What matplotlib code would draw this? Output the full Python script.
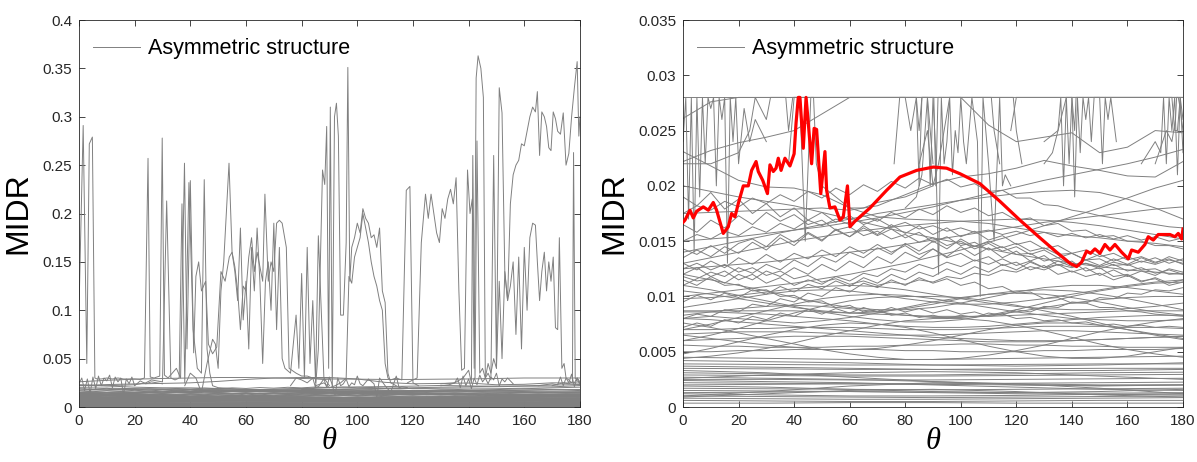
import numpy as np
import matplotlib
matplotlib.use('Agg')
import matplotlib.pyplot as plt
from matplotlib.lines import Line2D
from matplotlib.ticker import FuncFormatter, MultipleLocator

plt.rcParams['font.family'] = ['Liberation Sans', 'DejaVu Sans']

# MIDR values are stored in units of 1e-3
theta_30 = np.arange(0, 181, 30)
theta_10 = np.arange(0, 181, 10)
theta_5 = np.arange(0, 181, 5)

# nearly flat lines near the bottom (sampled every 30 deg)
flat_lines = [
    [0.35, 0.35, 0.4, 0.4, 0.35, 0.35, 0.35],
    [0.6, 0.55, 0.5, 0.5, 0.55, 0.6, 0.6],
    [0.8, 0.75, 0.7, 0.7, 0.75, 0.8, 0.85],
    [1.0, 0.95, 0.9, 0.85, 0.9, 0.95, 1.0],
    [1.2, 1.1, 1.0, 1.0, 1.05, 1.15, 1.2],
    [1.3, 1.35, 1.4, 1.35, 1.3, 1.25, 1.3],
    [1.5, 1.45, 1.4, 1.3, 1.2, 1.15, 1.1],
    [1.7, 1.65, 1.6, 1.55, 1.6, 1.65, 1.7],
    [1.9, 1.8, 1.6, 1.4, 1.3, 1.4, 1.6],
    [2.0, 2.05, 2.1, 2.05, 2.0, 1.95, 2.0],
    [2.2, 2.15, 2.1, 2.1, 2.15, 2.2, 2.25],
    [2.4, 2.3, 2.2, 2.0, 1.8, 1.6, 1.5],
    [2.5, 2.5, 2.45, 2.45, 2.5, 2.55, 2.6],
    [2.7, 2.6, 2.5, 2.3, 2.1, 2.0, 2.0],
    [2.9, 2.85, 2.8, 2.8, 2.85, 2.9, 2.95],
    [3.1, 3.0, 2.9, 2.9, 3.0, 3.1, 3.15],
    [3.3, 3.1, 2.7, 2.3, 2.0, 1.9, 2.0],
    [3.5, 3.45, 3.4, 3.4, 3.45, 3.5, 3.5],
    [3.7, 3.6, 3.5, 3.4, 3.3, 3.3, 3.4],
    [3.9, 3.85, 3.8, 3.8, 3.85, 3.9, 3.9],
    [1.0, 1.4, 1.9, 2.2, 2.1, 1.7, 1.2],
    [0.9, 1.2, 1.5, 1.6, 1.4, 1.1, 0.9],
    [4.2, 4.1, 4.0, 3.8, 3.7, 3.8, 4.0],
    [4.5, 4.4, 4.3, 4.3, 4.4, 4.5, 4.6],
    [2.6, 2.9, 3.1, 3.2, 3.1, 2.8, 2.5],
]

# smooth lines (sampled every 10 deg)
smooth_lines = [
    [5.0, 5.0, 5.1, 5.1, 5.2, 5.2, 5.2, 5.2, 5.1, 5.1, 5.0, 5.0, 5.0, 5.1, 5.1, 5.2, 5.2, 5.2, 5.3],
    [5.6, 5.5, 5.5, 5.4, 5.4, 5.4, 5.5, 5.5, 5.6, 5.6, 5.7, 5.7, 5.6, 5.6, 5.5, 5.5, 5.4, 5.4, 5.4],
    [6.0, 6.1, 6.2, 6.3, 6.4, 6.4, 6.4, 6.3, 6.2, 6.1, 6.0, 5.9, 5.9, 5.9, 6.0, 6.1, 6.2, 6.3, 6.4],
    [6.6, 6.7, 6.8, 6.8, 6.8, 6.7, 6.6, 6.5, 6.5, 6.5, 6.6, 6.7, 6.8, 6.9, 6.9, 6.8, 6.7, 6.6, 6.5],
    [7.0, 7.0, 7.1, 7.1, 7.2, 7.2, 7.2, 7.1, 7.0, 7.0, 7.0, 7.1, 7.2, 7.3, 7.3, 7.3, 7.2, 7.2, 7.1],
    [4.8, 5.3, 5.9, 6.5, 7.0, 7.4, 7.6, 7.5, 7.2, 6.7, 6.1, 5.5, 5.0, 4.6, 4.4, 4.4, 4.6, 5.0, 5.4],
    [7.6, 7.2, 6.7, 6.2, 5.7, 5.2, 4.8, 4.5, 4.3, 4.3, 4.4, 4.7, 5.1, 5.6, 6.2, 6.8, 7.3, 7.7, 8.0],
    [8.0, 7.9, 7.7, 7.5, 7.3, 7.1, 6.9, 6.7, 6.5, 6.3, 6.2, 6.1, 6.0, 6.0, 6.0, 6.1, 6.2, 6.3, 6.4],
    [4.4, 4.6, 4.9, 5.3, 5.8, 6.4, 6.9, 7.4, 7.8, 8.0, 8.0, 7.8, 7.4, 6.9, 6.3, 5.7, 5.2, 4.8, 4.5],
    [8.6, 8.6, 8.5, 8.4, 8.2, 8.0, 7.8, 7.5, 7.3, 7.2, 7.2, 7.3, 7.5, 7.7, 7.9, 8.1, 8.2, 8.3, 8.3],
    [6.5, 6.2, 5.9, 5.6, 5.4, 5.2, 5.2, 5.3, 5.6, 6.0, 6.5, 7.0, 7.4, 7.6, 7.6, 7.4, 7.0, 6.6, 6.2],
    [8.7, 8.7, 8.7, 8.7, 8.7, 8.6, 8.5, 8.4, 8.3, 8.2, 8.2, 8.2, 8.3, 8.4, 8.5, 8.6, 8.7, 8.7, 8.7],
    [9.8, 9.9, 10.1, 10.4, 10.7, 10.9, 11.0, 10.9, 10.6, 10.2, 9.8, 9.4, 9.1, 8.9, 8.8, 8.8, 8.9, 9.1, 9.4],
    [8.3, 8.6, 8.9, 9.1, 9.2, 9.1, 8.9, 8.6, 8.3, 8.1, 8.1, 8.3, 8.6, 9.0, 9.4, 9.7, 9.9, 10.0, 10.0],
    [11.0, 10.6, 10.1, 9.6, 9.1, 8.6, 8.2, 7.9, 7.7, 7.7, 7.9, 8.3, 8.8, 9.4, 10.0, 10.5, 10.9, 11.2, 11.3],
    [7.0, 7.5, 8.1, 8.7, 9.3, 9.8, 10.1, 10.2, 10.1, 9.8, 9.4, 9.0, 8.6, 8.3, 8.0, 7.9, 7.8, 7.8, 7.9],
    [12.0, 11.5, 11.0, 10.5, 9.9, 9.4, 9.0, 8.8, 8.8, 9.0, 9.4, 9.9, 10.4, 10.8, 11.0, 11.0, 10.8, 10.5, 10.2],
    [6.0, 6.5, 7.1, 7.8, 8.5, 9.1, 9.6, 9.9, 10.0, 10.0, 9.9, 9.6, 9.2, 8.7, 8.2, 7.6, 7.0, 6.5, 6.1],
    [9.0, 9.4, 9.8, 10.2, 10.5, 10.6, 10.5, 10.2, 9.8, 9.5, 9.3, 9.3, 9.5, 9.8, 10.2, 10.6, 11.0, 11.3, 11.5],
    [10.5, 10.2, 9.8, 9.4, 9.0, 8.7, 8.5, 8.6, 8.9, 9.3, 9.8, 10.2, 10.5, 10.6, 10.5, 10.2, 9.8, 9.3, 8.8],
    [8.0, 8.2, 8.0, 7.8, 7.6, 7.8, 8.1, 8.5, 9.0, 9.5, 9.9, 10.2, 10.3, 10.2, 9.9, 9.5, 9.0, 8.6, 8.3],
    [26.1, 27.6, 28.8, 29.5, 30.0, 30.5, 30.5, 30.0, 29.5, 29.0, 28.8, 28.5, 28.5, 28.8, 29.0, 29.5, 30.0, 30.0, 30.0],
    [22.2, 23.2, 23.9, 24.4, 25.0, 26.5, 28.5, 30.0, 30.5, 30.5, 29.0, 25.5, 24.0, 24.4, 24.8, 23.0, 23.5, 25.0, 24.8],
    [23.1, 21.8, 20.5, 19.9, 19.8, 19.2, 18.0, 17.2, 17.0, 16.9, 16.8, 16.6, 16.2, 15.8, 15.5, 15.3, 15.0, 14.8, 14.5],
    [17.5, 17.6, 17.7, 17.8, 17.9, 18.0, 17.8, 18.2, 19.2, 20.2, 20.8, 21.1, 21.6, 22.3, 21.8, 21.4, 20.9, 20.8, 22.2],
    [14.0, 14.5, 15.0, 15.5, 16.0, 16.5, 17.0, 17.5, 17.9, 18.3, 18.7, 19.0, 19.3, 19.5, 19.6, 19.4, 18.8, 18.0, 17.0],
    [13.0, 13.5, 14.0, 14.5, 15.0, 15.4, 15.8, 16.1, 16.4, 16.6, 16.8, 16.9, 17.0, 16.9, 16.7, 16.4, 16.0, 15.6, 15.2],
    [20.0, 19.5, 19.0, 18.6, 18.2, 17.6, 17.0, 16.4, 15.8, 15.3, 14.8, 14.3, 13.8, 13.4, 13.0, 12.7, 12.4, 12.2, 12.0],
    [10.0, 10.3, 10.6, 10.9, 11.2, 11.6, 12.0, 12.5, 13.0, 13.6, 14.2, 14.9, 15.6, 16.4, 17.2, 18.0, 18.9, 19.8, 20.5],
    [12.5, 12.7, 12.9, 13.1, 13.4, 13.7, 14.0, 14.3, 14.7, 15.1, 15.5, 15.9, 16.3, 16.7, 17.0, 17.3, 17.6, 17.9, 18.1],
    [15.0, 15.2, 15.4, 15.7, 16.0, 16.3, 16.7, 17.1, 17.6, 18.1, 18.7, 19.3, 19.9, 20.5, 21.0, 21.5, 22.0, 22.6, 23.3],
]

# jagged lines (sampled every 5 deg)
noisy_lines = [
    [14.3, 13.8, 14.6, 13.9, 14.8, 15.2, 14.5, 15.6, 14.9, 15.8, 15.1, 16.0, 15.4, 16.2, 15.5, 16.1, 15.3, 15.8, 14.9,
     15.4, 14.6, 14.9, 14.2, 14.5, 13.8, 13.9, 13.2, 13.5, 12.8, 13.0, 12.5, 12.9, 12.3, 12.6, 12.1, 12.4, 12.0],
    [13.0, 12.4, 13.2, 12.6, 13.5, 12.9, 13.8, 13.1, 13.9, 13.4, 14.2, 13.6, 14.5, 13.9, 14.7, 14.0, 14.6, 13.8, 14.3,
     13.5, 13.9, 13.2, 13.6, 12.8, 13.1, 12.4, 12.8, 12.0, 12.3, 11.8, 12.1, 11.5, 11.9, 11.3, 11.7, 11.2, 11.5],
    [12.0, 12.6, 11.8, 12.3, 11.5, 12.0, 11.2, 11.7, 11.0, 11.5, 11.1, 11.8, 11.4, 12.1, 11.8, 12.5, 12.2, 12.9, 12.5,
     13.1, 12.7, 13.3, 12.9, 13.4, 12.8, 13.2, 12.6, 12.9, 12.2, 12.6, 11.9, 12.4, 11.8, 12.3, 11.9, 12.5, 12.2],
    [11.5, 11.0, 11.8, 11.2, 12.0, 11.5, 12.3, 11.8, 12.6, 12.0, 12.9, 12.3, 13.2, 12.6, 13.6, 13.0, 14.0, 13.4, 14.3,
     13.6, 14.5, 13.7, 14.4, 13.5, 14.1, 13.2, 13.7, 12.8, 13.2, 12.3, 12.6, 11.8, 12.0, 11.4, 11.6, 11.0, 11.3],
    [16.5, 15.8, 16.9, 16.2, 17.3, 16.5, 17.6, 16.8, 17.4, 16.5, 16.9, 16.0, 16.3, 15.5, 15.9, 15.2, 15.6, 14.9, 15.3,
     14.6, 15.0, 14.3, 14.8, 14.1, 14.5, 13.8, 14.2, 13.5, 13.9, 13.3, 13.8, 13.2, 13.6, 13.1, 13.5, 13.0, 13.4],
    [11.0, 11.6, 12.2, 11.8, 12.6, 12.1, 12.9, 12.4, 13.3, 12.7, 13.6, 13.1, 14.0, 13.5, 14.4, 13.8, 14.8, 14.1, 15.0,
     14.3, 15.2, 14.5, 15.0, 14.4, 14.8, 14.1, 14.4, 13.8, 13.9, 13.3, 13.4, 12.8, 12.9, 12.4, 12.5, 12.0, 12.1],
    [9.5, 10.1, 9.7, 10.3, 9.9, 10.6, 10.2, 10.9, 10.4, 11.1, 10.7, 11.4, 10.9, 11.7, 11.2, 12.0, 11.5, 12.2, 11.8,
     12.5, 12.0, 12.7, 12.2, 12.9, 12.4, 13.1, 12.6, 13.2, 12.7, 13.3, 12.8, 13.4, 12.9, 13.5, 13.0, 13.6, 13.2],
    [15.0, 15.6, 15.2, 15.9, 15.5, 16.3, 15.8, 16.6, 16.1, 16.9, 16.4, 17.0, 16.5, 17.3, 16.8, 17.6, 17.1, 17.9, 17.4,
     18.2, 17.6, 18.0, 17.3, 17.6, 16.9, 17.1, 16.4, 16.6, 15.9, 16.0, 15.4, 15.5, 15.0, 15.0, 14.6, 14.6, 14.3],
    [17.5, 18.2, 17.8, 18.6, 18.1, 18.9, 18.4, 19.2, 18.6, 19.5, 18.9, 19.8, 19.2, 20.1, 19.5, 20.4, 19.8, 20.7, 20.1,
     20.6, 19.9, 20.2, 19.5, 19.6, 18.9, 18.9, 18.3, 18.2, 17.8, 17.6, 17.3, 17.1, 16.9, 16.7, 16.5, 16.3, 16.2],
    [12.5, 13.0, 12.4, 12.9, 12.2, 12.6, 11.9, 12.3, 11.6, 11.9, 11.3, 11.6, 11.1, 11.4, 11.0, 11.3, 11.1, 11.5, 11.3,
     11.8, 11.6, 12.1, 11.9, 12.4, 12.2, 12.7, 12.4, 12.9, 12.6, 13.0, 12.7, 13.1, 12.8, 13.2, 12.9, 13.3, 13.0],
    [8.0, 8.4, 8.2, 8.8, 8.6, 9.3, 9.1, 9.8, 9.5, 10.3, 10.0, 10.8, 10.4, 11.2, 10.8, 11.5, 11.0, 11.7, 11.2,
     11.6, 11.0, 11.3, 10.7, 10.9, 10.3, 10.4, 9.8, 9.9, 9.4, 9.4, 9.0, 9.0, 8.7, 8.6, 8.4, 8.3, 8.2],
    [11.8, 11.4, 11.6, 11.0, 11.1, 10.5, 10.6, 10.0, 10.1, 9.5, 9.6, 9.0, 9.2, 8.6, 8.8, 8.3, 8.5, 8.1, 8.3,
     8.0, 8.3, 8.1, 8.5, 8.3, 8.8, 8.6, 9.1, 9.0, 9.5, 9.4, 9.9, 9.8, 10.3, 10.2, 10.6, 10.5, 10.8],
    [7.2, 7.6, 7.3, 7.9, 7.6, 8.2, 7.9, 8.5, 8.2, 8.8, 8.4, 8.9, 8.5, 9.0, 8.6, 9.0, 8.6, 8.9, 8.5,
     8.8, 8.4, 8.6, 8.2, 8.4, 8.0, 8.1, 7.8, 7.9, 7.6, 7.7, 7.4, 7.5, 7.3, 7.4, 7.2, 7.3, 7.2],
    [13.5, 14.2, 13.6, 14.5, 13.9, 14.9, 14.2, 15.3, 14.6, 15.7, 15.0, 16.1, 15.4, 16.4, 15.6, 16.5, 15.7, 16.4, 15.6,
     16.2, 15.4, 15.9, 15.1, 15.5, 14.7, 15.0, 14.3, 14.6, 13.9, 14.2, 13.6, 13.9, 13.3, 13.6, 13.1, 13.4, 12.9],
    [19.0, 18.2, 19.4, 17.9, 18.8, 17.5, 18.4, 17.2, 18.0, 16.9, 17.6, 16.7, 17.3, 16.5, 17.0, 16.3, 16.7, 16.1, 16.4,
     15.9, 16.2, 15.8, 16.0, 15.6, 15.9, 15.5, 15.8, 15.4, 15.7, 15.3, 15.6, 15.2, 15.5, 15.1, 15.4, 15.0, 15.3],
]

# spiky lines, each with its own theta samples
spike_theta = [
    [0, 1.5, 2.8, 3.7, 4.8, 5.7, 6.5, 8, 10, 12, 14, 16, 18, 20, 22, 23.5, 24.8, 25.6, 27, 29, 29.9, 30.7, 32,
     33.5, 35, 36.5, 37.9, 38.8, 40, 41.2, 42, 43, 44, 45.5, 46.5, 48, 49.5, 51, 52.5, 54, 55, 56, 57, 58, 59, 60,
     61, 62, 63, 64, 65, 66, 66.8, 68, 69, 70, 71, 72, 73, 74.5, 75.5, 76.5, 78, 80, 82, 84, 86, 88, 90],
    [0, 10, 20, 24, 26, 28, 30, 31.5, 33, 34.5, 36, 37, 38, 39.5, 41, 42.5, 44, 45, 46, 47, 48, 50, 55, 60, 65,
     70, 80, 90],
    [38, 40, 42, 44, 46, 48, 49, 50, 51, 52, 53.9, 55, 56, 57, 58, 59, 60, 61, 62, 63, 64, 65, 66, 67, 68, 69, 70,
     71, 72, 73, 74, 76, 78, 79, 80, 81, 82, 83, 84, 85, 86, 88, 90],
    [76, 78, 80, 82, 84, 85, 86, 87.5, 88.3, 89, 89.7, 90.3, 91, 91.8, 92.5, 93.2, 94, 95, 96, 96.6, 97.3, 98, 99,
     100, 101, 102, 103, 104, 105, 106, 107, 108, 109, 110, 111, 112, 114],
    [85, 88, 90, 92, 94, 96, 97, 98, 99, 100, 101, 102, 103, 104, 105, 106, 107, 108, 109, 110, 111, 112, 114, 116,
     117.6, 118.9, 120, 122],
    [118, 120, 121.5, 123, 124.5, 125.5, 126.5, 127.5, 128.5, 129.5, 130.5, 131.5, 132.5, 133.5, 134.5, 135.5,
     136.5, 137.5, 138.5, 139.6, 140.5, 141.3, 142, 142.7, 143.4, 144.4, 145.3, 146, 147, 148, 149, 150, 151, 152,
     153, 154, 155, 156, 157, 158, 159, 160, 161, 162, 163, 164, 164.7, 165.5, 166.3, 167.2, 168, 168.8, 169.6,
     170.4, 171.2, 172, 173, 174, 175, 176, 177, 178, 179, 179.6, 180],
    [130, 135, 138, 140, 141, 141.5, 142.3, 143, 144, 145, 146, 147, 148, 149, 150, 151, 152, 153, 154, 155, 156,
     157, 158, 159, 160, 161, 162, 163, 164, 164.7, 165.5, 166.3, 167.2, 168, 168.8, 169.6, 170.4, 171.2, 172,
     172.6, 173.5, 174.3, 175, 176, 177, 178, 179, 180],
    [170, 174, 176, 177.3, 177.7, 178.3, 179, 180],
    [0, 1, 2, 3, 4, 5, 6, 7, 8, 9, 10, 11, 12, 13, 14, 15, 16, 17, 18, 19, 20, 22, 24, 26, 28, 30],
    [80, 84, 86, 88, 89, 90, 91, 92, 93, 94, 95, 96, 97, 98, 99, 100, 101, 102, 104, 106, 107, 108, 110, 112,
     114, 115, 116, 118],
    [130, 133, 135, 136, 137, 138, 139, 140, 141, 142, 143, 144, 145, 146, 147, 148, 149, 150, 151, 152, 153, 154,
     156],
    [165, 170, 172, 173, 174, 175, 176, 177, 178, 179, 180],
]
spike_values = [
    [100, 291, 45, 272, 279, 30, 29, 29, 30, 29, 30, 29, 29, 29, 28.5, 30, 257, 31, 30, 32, 278, 33, 30, 35, 40, 30,
     252, 60, 234, 56, 135, 150, 120, 130, 65, 55, 62, 140, 130, 155, 160, 145, 120, 80, 125, 120, 155, 175, 140,
     160, 145, 130, 220, 130, 150, 140, 190, 193, 190, 165, 40, 38, 35, 32, 32, 30, 29, 28.5, 29],
    [22, 22, 23, 25, 28, 27, 26, 213, 30, 28, 30, 210, 25, 232, 80, 40, 35, 235, 60, 35, 22, 20, 19, 18, 18, 18.5,
     19, 20],
    [22, 35, 30, 15, 45, 70, 65, 40, 120, 150, 252, 160, 140, 110, 185, 90, 130, 60, 165, 120, 185, 130, 45, 130,
     150, 100, 190, 80, 165, 50, 40, 35, 95, 40, 138, 30, 165, 45, 110, 25, 177, 30, 22],
    [22, 30, 28, 25, 30, 20, 60, 245, 230, 290, 40, 310, 20, 300, 314, 280, 95, 95, 170, 351, 130, 165, 175, 190,
     180, 205, 195, 190, 175, 178, 165, 185, 120, 108, 35, 25, 22],
    [22, 25, 20, 22, 25, 30, 135, 128, 155, 165, 175, 200, 185, 170, 150, 135, 125, 110, 100, 45, 30, 28, 30, 28,
     224, 228, 25, 22],
    [25, 28, 30, 170, 220, 195, 220, 200, 180, 170, 205, 195, 215, 225, 210, 237, 120, 38, 40, 245, 200, 215, 40,
     340, 363, 350, 320, 30, 35, 28, 260, 40, 330, 304, 140, 110, 210, 240, 250, 255, 272, 270, 285, 300, 310, 305,
     326, 260, 305, 300, 290, 268, 265, 305, 298, 285, 282, 304, 250, 262, 300, 330, 357, 280, 300],
    [24, 25, 30, 38, 25, 260, 30, 275, 35, 40, 30, 45, 35, 50, 40, 130, 50, 140, 110, 125, 150, 75, 155, 60, 165,
     100, 175, 190, 188, 150, 110, 140, 160, 120, 150, 130, 155, 82, 80, 175, 40, 45, 30, 28, 25, 25, 30, 26],
    [22, 25, 24, 26, 263, 30, 27, 25],
    [24, 30, 17, 29, 14, 31, 19, 32, 22, 30, 27, 33, 20, 31, 26, 30, 13, 29, 24, 31, 22, 27, 24, 26, 25, 24],
    [18, 19, 21, 29, 20, 31, 23, 12, 30, 22, 24, 29, 21, 25, 23, 32, 24, 22, 29, 24, 10, 30, 22, 15, 32, 20, 21, 20],
    [22, 23, 25, 30, 20, 32, 22, 29, 19, 30, 23, 33, 26, 30, 24, 31, 28, 35, 22, 29, 26, 30, 24],
    [22, 24, 23, 31, 22, 30, 25, 34, 21, 30, 23],
]

# highlighted red curve (right panel)
red_theta = [0, 0.7, 2.5, 3.7, 4.9, 7.3, 9.1, 10.9, 12.1, 14.5, 16.3, 17.5, 18.7, 19.9, 21.7, 23.5, 24.7, 26.3,
             27.1, 28.7, 30.4, 31.3, 32.5, 33.5, 34.3, 35.3, 36.7, 38.5, 40.0, 40.7, 41.5, 42.1, 43.3, 44.3, 45.1,
             46.3, 47.2, 48.1, 49.6, 51.1, 51.7, 52.9, 54.7, 56.5, 57.7, 59.2, 60.1, 61.9, 67.3, 73.3, 78.1, 84.1,
             90.1, 94.9, 99.7, 106.9, 114.1, 121.3, 128.5, 134.5, 139.3, 141.7, 143.5, 145.3, 146.7, 148.3, 150.1,
             151.9, 153.7, 155.5, 157.9, 160.3, 161.5, 163.9, 166.3, 167.5, 169.3, 171.1, 172.9, 175.3, 177.1,
             178.3, 179.5, 180]
red_values = [16.7, 16.9, 17.8, 17.1, 17.7, 18.1, 17.8, 18.5, 17.8, 15.7, 16.3, 17.5, 17.2, 18.4, 20.0, 20.0,
              21.4, 22.2, 21.3, 20.5, 19.3, 21.9, 21.3, 21.6, 22.5, 21.4, 22.5, 21.8, 22.9, 25.7, 28.0, 28.0, 23.4,
              28.0, 25.7, 22.0, 25.2, 25.1, 19.3, 23.1, 19.6, 18.0, 18.1, 16.9, 17.2, 20.0, 16.3, 16.8, 18.0, 19.6,
              20.8, 21.4, 21.7, 21.6, 21.1, 20.2, 18.6, 16.9, 15.3, 14.0, 13.0, 12.7, 13.1, 14.1, 13.9, 14.3, 13.9,
              14.7, 14.2, 14.7, 14.0, 13.4, 14.2, 14.0, 14.7, 15.4, 15.1, 15.6, 15.6, 15.6, 15.4, 15.7, 15.2, 16.1]

CAP = 28.0
GRAY = '#808080'
LW = 0.7


def all_gray_series():
    for y in flat_lines:
        yield theta_30, np.array(y)
    for y in smooth_lines:
        yield theta_10, np.array(y)
    for y in noisy_lines:
        yield theta_5, np.array(y)
    for x, y in zip(spike_theta, spike_values):
        yield np.array(x), np.array(y, dtype=float)


def style_axes(ax, ymax, ystep):
    ax.set_xlim(0, 180)
    ax.set_ylim(0, ymax)
    ax.xaxis.set_major_locator(MultipleLocator(20))
    ax.yaxis.set_major_locator(MultipleLocator(ystep))
    ax.yaxis.set_major_formatter(FuncFormatter(lambda v, p: '%g' % round(v, 6)))
    ax.tick_params(direction='in', top=True, right=True, length=4, width=0.6,
                   labelsize=11, colors='#262626', pad=5)
    for s in ax.spines.values():
        s.set_color('#262626')
        s.set_linewidth(0.6)
    ax.set_ylabel('MIDR', fontsize=23)
    ax.set_xlabel('θ', fontsize=22, family=['Liberation Serif', 'DejaVu Serif'], style='italic')
    ax.xaxis.set_label_coords(0.5, -0.052)
    handle = Line2D([], [], color=GRAY, lw=LW)
    ax.legend([handle], ['Asymmetric structure'], loc='upper left', frameon=False,
              fontsize=15.5, handlelength=2.2, handletextpad=0.35,
              bbox_to_anchor=(0.01, 0.975), borderaxespad=0.0)


fig = plt.figure(figsize=(11.97, 4.62), dpi=100)
ax1 = fig.add_axes([0.066, 0.119, 0.4185, 0.8377])
ax2 = fig.add_axes([0.5706, 0.119, 0.4177, 0.8377])

for x, y in all_gray_series():
    ax1.plot(x, y * 1e-3, color=GRAY, lw=LW)
    ax2.plot(x, np.minimum(y, CAP) * 1e-3, color=GRAY, lw=LW)

ax2.plot(red_theta, np.array(red_values) * 1e-3, color='#ff0000', lw=2.3, zorder=5)

style_axes(ax1, 0.4, 0.05)
style_axes(ax2, 0.035, 0.005)
ax1.yaxis.set_label_coords(-0.092, 0.5)
ax2.yaxis.set_label_coords(-0.108, 0.5)

fig.savefig('out.png', dpi=100)
